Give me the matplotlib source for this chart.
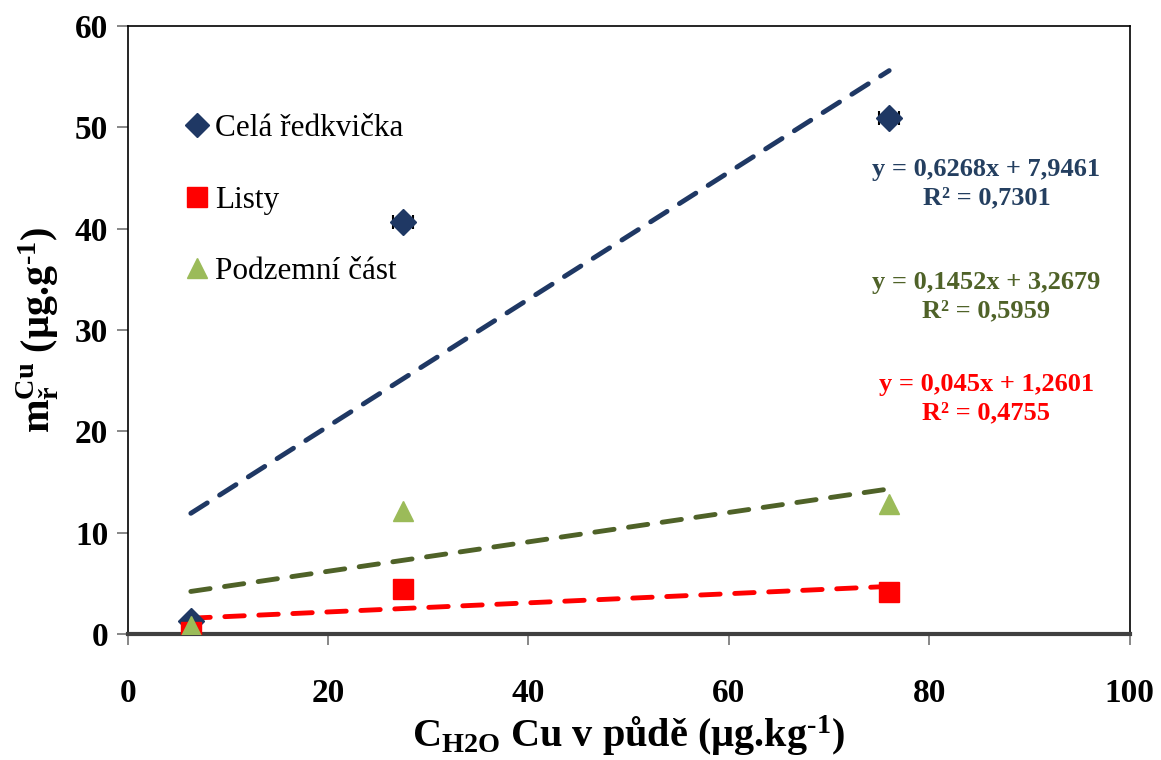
"""
Cu uptake in radish vs water-extractable Cu in soil
"""

import numpy as np
from matplotlib import pyplot as plt
from matplotlib.lines import Line2D

plt.rcParams['font.family'] = ['Liberation Serif', 'DejaVu Serif']
plt.rcParams['mathtext.fontset'] = 'custom'
plt.rcParams['mathtext.rm'] = 'Liberation Serif:bold'
plt.rcParams['mathtext.it'] = 'Liberation Serif:bold'
plt.rcParams['mathtext.bf'] = 'Liberation Serif:bold'

# soil Cu (x) and plant Cu (y)
x_soil = [6.3, 27.5, 76.0]
x_err = [0.3, 1.0, 1.0]
y_cela = [1.3, 40.6, 50.9]
y_listy = [0.2, 4.4, 4.1]
y_podzem = [0.8, 12.1, 12.8]

# trendline coefficients (slope, intercept, R2) as printed
fit_cela = (0.6268, 7.9461, '0,7301')
fit_listy = (0.045, 1.2601, '0,4755')
fit_podzem = (0.1452, 3.2679, '0,5959')

c_navy = '#1F3864'
c_red = '#FF0000'
c_green = '#9BBB59'
c_olive = '#4F6228'

fig = plt.figure(figsize=(11.61, 7.6), dpi=100)
ax = fig.add_axes([0.110, 0.166, 0.863, 0.800])

xs = np.array([min(x_soil), max(x_soil)])
# trendlines
ax.plot(xs, fit_cela[0] * xs + fit_cela[1], c=c_navy, lw=3.5, ls=(0, (4, 3)), dash_capstyle='round', zorder=2)
ax.plot(xs, fit_podzem[0] * xs + fit_podzem[1], c=c_olive, lw=3.5, ls=(0, (4, 3)), dash_capstyle='round', zorder=2)
ax.plot(xs, fit_listy[0] * xs + fit_listy[1], c=c_red, lw=3.5, ls=(0, (4, 3)), dash_capstyle='round', zorder=2)

ax.errorbar(x_soil, y_cela, xerr=x_err, fmt='D', ms=13, c=c_navy, ecolor='k',
            elinewidth=1.2, capsize=5, capthick=1.5, zorder=3)
ax.plot(x_soil, y_listy, 's', ms=15, c=c_red, zorder=4)
ax.plot(x_soil, y_podzem, '^', ms=15, c=c_green, zorder=5)

# equation labels
eq_kw = dict(ha='center', va='center', fontsize=19, fontweight='bold', linespacing=1.3)
ax.text(85.7, 44.4, 'y = 0,6268x + 7,9461\nR² = ' + fit_cela[2], color='#243F60', **eq_kw)
ax.text(85.7, 33.3, 'y = 0,1452x + 3,2679\nR² = ' + fit_podzem[2], color=c_olive, **eq_kw)
ax.text(85.7, 23.2, 'y = 0,045x + 1,2601\nR² = ' + fit_listy[2], color=c_red, **eq_kw)

handles = [Line2D([], [], ls='none', marker='D', ms=12, c=c_navy),
           Line2D([], [], ls='none', marker='s', ms=14, c=c_red),
           Line2D([], [], ls='none', marker='^', ms=14, c=c_green)]
labels = ['Celá ředkvička', 'Listy', 'Podzemní část']
ax.legend(handles, labels, loc='upper left', bbox_to_anchor=(0.047, 0.875), frameon=False,
          fontsize=22.5, handlelength=0.6, handletextpad=0.3, labelspacing=1.35,
          borderaxespad=0)

ax.set_xlim(0, 100)
ax.set_ylim(0, 60)
ax.set_xticks(np.arange(0, 101, 20))
ax.set_yticks(np.arange(0, 61, 10))
ax.tick_params(axis='both', direction='out', length=8, width=1.2, color='0.45', labelsize=24)
ax.tick_params(axis='x', pad=24)
ax.tick_params(axis='y', pad=6)
for lab in ax.get_xticklabels() + ax.get_yticklabels():
    lab.set_fontweight('bold')
for s in ['top', 'right', 'left']:
    ax.spines[s].set_color('k')
    ax.spines[s].set_linewidth(1.2)
ax.spines['bottom'].set_color('0.25')
ax.spines['bottom'].set_linewidth(3)

ax.set_xlabel(r'$\text{C}_{\text{H2O}}\text{ Cu v půdě (µg.kg}^{\text{-1}}\text{)}$', fontsize=29, labelpad=3)
ax.set_ylabel(r'$\text{m}^{\text{Cu}}_{\text{ř}}\text{ (µg.g}^{\text{-1}}\text{)}$', fontsize=29, labelpad=10)

plt.savefig('out.png', dpi=100)
